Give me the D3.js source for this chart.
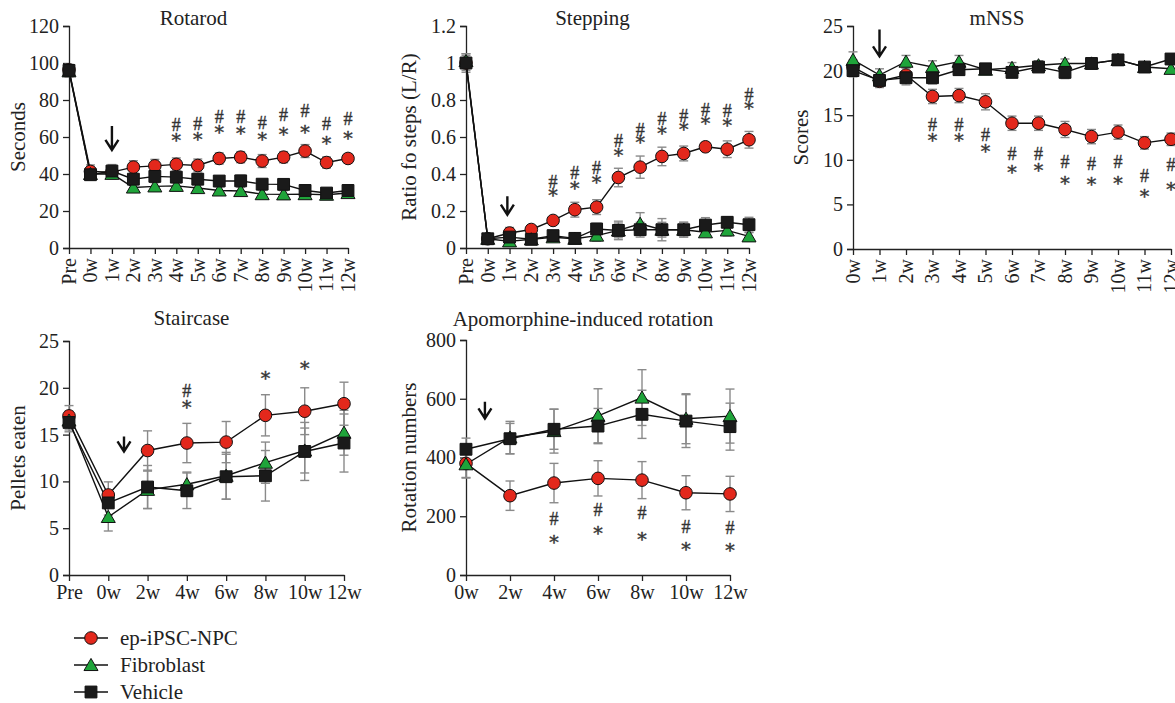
<!DOCTYPE html>
<html>
<head>
<meta charset="utf-8">
<script src="https://cdn.jsdelivr.net/npm/d3@7"></script>
<style>
  body { margin: 0; background: #fff; }
  svg text { font-family: "Liberation Serif", "Times New Roman", serif; fill: #222; }
  svg text.sig { fill: #333; stroke: #333; stroke-width: 0.35; }
  svg text.star { font-family: "DejaVu Serif", serif; }
  .axis path, .axis line { stroke: #222; stroke-width: 1.3; }
</style>
</head>
<body>
<div id="chart"></div>
<script>
const width = 1175;
const height = 703;

const seriesNames = ['ep-iPSC-NPC', 'Fibroblast', 'Vehicle'];

// Rotarod
const rotarodWeeks = ['Pre', '0w', '1w', '2w', '3w', '4w', '5w', '6w', '7w', '8w', '9w', '10w', '11w', '12w'];
const rotarodNpc = [96.3, 41.4, 41.0, 43.7, 44.4, 45.2, 44.6, 48.4, 49.1, 47.0, 49.1, 52.4, 46.2, 48.4];
const rotarodNpcErr = [3, 3.5, 3.5, 3.5, 3.5, 3.5, 3.5, 3, 3, 3.5, 3, 3.5, 3, 2.5];
const rotarodFib = [95.5, 40.0, 40.1, 32.7, 33.3, 33.6, 32.4, 31.1, 30.8, 29.1, 29.0, 29.1, 28.8, 29.7];
const rotarodFibErr = [3, 3, 2.5, 2, 2, 2, 2, 2, 2, 2, 2, 2, 2, 2];
const rotarodVeh = [96.0, 39.6, 41.6, 37.2, 38.7, 38.3, 37.2, 36.2, 36.3, 34.5, 34.4, 31.1, 29.7, 31.1];
const rotarodVehErr = [3, 3, 3.5, 3, 3, 3, 3, 2.5, 3, 2.5, 2.5, 3, 2.5, 3];
const rotarodHash = [null, null, null, null, null, 66.6, 67.2, 70.6, 70.6, 67.5, 72.0, 73.8, 67.1, 69.6];
const rotarodStar = [null, null, null, null, null, 59.4, 59.9, 63.9, 63.5, 60.0, 62.6, 63.9, 57.6, 60.3];

// Stepping
const steppingWeeks = rotarodWeeks;
const steppingNpc = [1.0, 0.05, 0.081, 0.10, 0.149, 0.207, 0.221, 0.381, 0.437, 0.495, 0.511, 0.547, 0.534, 0.585];
const steppingNpcErr = [0.05, 0.02, 0.03, 0.02, 0.02, 0.04, 0.04, 0.05, 0.06, 0.05, 0.04, 0.02, 0.045, 0.045];
const steppingFib = [1.01, 0.05, 0.036, 0.047, 0.058, 0.05, 0.067, 0.095, 0.131, 0.099, 0.099, 0.085, 0.095, 0.063];
const steppingFibErr = [0.04, 0.02, 0.02, 0.02, 0.02, 0.02, 0.03, 0.04, 0.06, 0.04, 0.04, 0.02, 0.03, 0.02];
const steppingVeh = [1.0, 0.05, 0.059, 0.047, 0.067, 0.052, 0.103, 0.095, 0.099, 0.099, 0.099, 0.124, 0.139, 0.126];
const steppingVehErr = [0.04, 0.02, 0.03, 0.02, 0.02, 0.02, 0.03, 0.05, 0.04, 0.06, 0.04, 0.04, 0.03, 0.04];
const steppingHash = [null, null, null, null, 0.356, 0.405, 0.432, 0.576, 0.639, 0.696, 0.711, 0.747, 0.738, 0.828];
const steppingStar = [null, null, null, null, 0.297, 0.333, 0.369, 0.513, 0.585, 0.635, 0.653, 0.689, 0.678, 0.765];

// mNSS
const mnssWeeks = ['0w', '1w', '2w', '3w', '4w', '5w', '6w', '7w', '8w', '9w', '10w', '11w', '12w'];
const mnssNpc = [20.4, 18.8, 19.5, 17.1, 17.2, 16.5, 14.1, 14.1, 13.4, 12.6, 13.1, 11.9, 12.3];
const mnssNpcErr = [0.8, 0.7, 0.8, 0.8, 0.8, 0.9, 0.8, 0.8, 0.9, 0.8, 0.8, 0.7, 0.7];
const mnssFib = [21.2, 19.5, 21.0, 20.4, 21.0, 20.1, 20.3, 20.6, 20.8, 20.8, 21.2, 20.4, 20.2];
const mnssFibErr = [0.9, 0.7, 0.7, 0.7, 0.7, 0.5, 0.6, 0.5, 0.5, 0.4, 0.4, 0.4, 0.5];
const mnssVeh = [20.0, 18.9, 19.2, 19.2, 20.1, 20.2, 19.8, 20.4, 19.8, 20.8, 21.2, 20.4, 21.3];
const mnssVehErr = [0.7, 0.6, 0.8, 0.7, 0.6, 0.4, 0.5, 0.5, 0.7, 0.4, 0.4, 0.4, 0.5];
const mnssHash = [null, null, null, 13.9, 13.9, 12.8, 10.6, 10.6, 9.7, 9.5, 9.7, 8.2, 9.4];
const mnssStar = [null, null, null, 12.4, 12.5, 11.2, 8.9, 9.1, 7.6, 7.5, 7.6, 6.2, 7.0];

// Staircase
const staircaseWeeks = ['Pre', '0w', '2w', '4w', '6w', '8w', '10w', '12w'];
const staircaseNpc = [17.0, 8.55, 13.3, 14.1, 14.2, 17.06, 17.5, 18.3];
const staircaseNpcErr = [1.1, 1.4, 2.1, 2.1, 2.2, 2.2, 2.5, 2.3];
const staircaseFib = [16.5, 6.2, 9.1, 9.7, 10.6, 12.0, 13.3, 15.2];
const staircaseFibErr = [1.0, 1.5, 2.0, 1.3, 2.5, 2.2, 2.4, 2.4];
const staircaseVeh = [16.3, 7.7, 9.4, 9.0, 10.5, 10.6, 13.2, 14.1];
const staircaseVehErr = [1.0, 1.3, 2.3, 1.9, 2.4, 2.7, 3.1, 3.1];
const staircaseHash = [null, null, null, 19.7, null, null, null, null];
const staircaseStar = [null, null, null, 18.2, null, 21.3, 22.3, null];

// Apomorphine-induced rotation
const apoWeeks = ['0w', '2w', '4w', '6w', '8w', '10w', '12w'];
const apoNpc = [380, 270, 313, 329, 323, 280, 276];
const apoNpcErr = [50, 50, 67, 60, 63, 58, 60];
const apoFib = [377, 468, 490, 542, 604, 532, 541];
const apoFibErr = [45, 55, 75, 92, 95, 85, 92];
const apoVeh = [428, 464, 496, 507, 547, 524, 505];
const apoVehErr = [38, 52, 68, 60, 82, 90, 80];
const apoHash = [null, null, 191, 221, 210, 165, 159];
const apoStar = [null, null, 119, 150, 128, 96, 91];

const colors = { npc: '#e3281c', fib: '#1fa43a', veh: '#1a1a1a' };

const panels = [
  {
    title: 'Rotarod', ylabel: 'Seconds', cats: rotarodWeeks, domain: [0, 120], ticks: d3.range(0, 121, 20),
    fmt: d => d, rotate: true, x0: 69, x1: 348, y0: 248, y1: 26, ylabelX: 18, titleY: 25,
    npc: rotarodNpc, npcErr: rotarodNpcErr, fib: rotarodFib, fibErr: rotarodFibErr,
    veh: rotarodVeh, vehErr: rotarodVehErr, hash: rotarodHash, star: rotarodStar,
    arrow: { at: 2, from: 66, to: 53 },
  },
  {
    title: 'Stepping', ylabel: 'Ratio fo steps (L/R)', cats: steppingWeeks, domain: [0, 1.2], ticks: d3.range(0, 7).map(i => i * 0.2),
    fmt: d => (d === 0 || d === 1 ? d3.format('d')(d) : d3.format('.1f')(d)), rotate: true, x0: 466, x1: 749, y0: 248, y1: 26, ylabelX: 409, titleY: 25,
    npc: steppingNpc, npcErr: steppingNpcErr, fib: steppingFib, fibErr: steppingFibErr,
    veh: steppingVeh, vehErr: steppingVehErr, hash: steppingHash, star: steppingStar,
    arrow: { at: 1.9, from: 0.28, to: 0.18 },
  },
  {
    title: 'mNSS', ylabel: 'Scores', cats: mnssWeeks, domain: [0, 25], ticks: d3.range(0, 26, 5),
    fmt: d => d, rotate: true, x0: 853, x1: 1171, y0: 249, y1: 26, ylabelX: 801, titleY: 25,
    npc: mnssNpc, npcErr: mnssNpcErr, fib: mnssFib, fibErr: mnssFibErr,
    veh: mnssVeh, vehErr: mnssVehErr, hash: mnssHash, star: mnssStar,
    arrow: { at: 1, from: 24.6, to: 21.6 },
  },
  {
    title: 'Staircase', ylabel: 'Pellets eaten', cats: staircaseWeeks, domain: [0, 25], ticks: d3.range(0, 26, 5),
    fmt: d => d, rotate: false, x0: 69, x1: 344, y0: 575, y1: 341, ylabelX: 18, titleY: 325,
    npc: staircaseNpc, npcErr: staircaseNpcErr, fib: staircaseFib, fibErr: staircaseFibErr,
    veh: staircaseVeh, vehErr: staircaseVehErr, hash: staircaseHash, star: staircaseStar,
    arrow: { at: 1.4, from: 14.8, to: 13.2 },
  },
  {
    title: 'Apomorphine-induced rotation', ylabel: 'Rotation numbers', cats: apoWeeks, domain: [0, 800], ticks: d3.range(0, 801, 200),
    fmt: d => d, rotate: false, x0: 466, x1: 730, y0: 575, y1: 340, ylabelX: 409, titleY: 326,
    npc: apoNpc, npcErr: apoNpcErr, fib: apoFib, fibErr: apoFibErr,
    veh: apoVeh, vehErr: apoVehErr, hash: apoHash, star: apoStar,
    arrow: { at: 0.43, from: 590, to: 533 },
  },
];

const svg = d3.select('#chart')
  .append('svg')
  .attr('width', width)
  .attr('height', height);

const symbols = {
  npc: d3.symbol().type(d3.symbolCircle).size(125),
  fib: d3.symbol().type(d3.symbolTriangle).size(85),
  veh: d3.symbol().type(d3.symbolSquare).size(140),
};

function drawPanel(p) {
  const g = svg.append('g');
  const x = d3.scalePoint().domain(p.cats).range([p.x0, p.x1]);
  const xi = d3.scaleLinear().domain([0, p.cats.length - 1]).range([p.x0, p.x1]);
  const y = d3.scaleLinear().domain(p.domain).range([p.y0, p.y1]);

  const yAxis = d3.axisLeft(y).tickValues(p.ticks).tickFormat(p.fmt).tickSize(6).tickPadding(4);
  g.append('g').attr('class', 'axis').attr('transform', `translate(${p.x0},0)`).call(yAxis)
    .call(a => a.selectAll('text').style('font-size', '20px'));

  const xAxis = d3.axisBottom(x).tickSize(6).tickSizeOuter(0).tickPadding(4);
  const xg = g.append('g').attr('class', 'axis').attr('transform', `translate(0,${p.y0})`).call(xAxis);
  xg.selectAll('text').style('font-size', '20px');
  if (p.rotate) {
    xg.selectAll('text')
      .attr('transform', 'rotate(-90)')
      .attr('text-anchor', 'end')
      .attr('x', -10)
      .attr('y', 0)
      .attr('dy', '0.32em');
  } else {
    xg.selectAll('text').attr('y', 10);
  }

  g.append('text')
    .attr('x', (p.x0 + p.x1) / 2 - 15)
    .attr('y', p.titleY)
    .attr('text-anchor', 'middle')
    .style('font-size', '21px')
    .text(p.title);

  g.append('text')
    .attr('transform', `translate(${p.ylabelX},${(p.y0 + p.y1) / 2}) rotate(-90)`)
    .attr('text-anchor', 'middle')
    .attr('dy', '0.35em')
    .style('font-size', '21px')
    .text(p.ylabel);

  const keys = ['npc', 'fib', 'veh'];
  const rows = k => p.cats.map((c, i) => ({ c, v: p[k][i], e: p[k + 'Err'][i] }));

  // error bars
  keys.forEach((k) => {
    const eb = g.append('g').attr('stroke', '#8a8a8a').attr('stroke-width', 1.4);
    rows(k).forEach((d) => {
      const cx = x(d.c);
      eb.append('line').attr('x1', cx).attr('x2', cx).attr('y1', y(d.v - d.e)).attr('y2', y(d.v + d.e));
      eb.append('line').attr('x1', cx - 4.5).attr('x2', cx + 4.5).attr('y1', y(d.v - d.e)).attr('y2', y(d.v - d.e));
      eb.append('line').attr('x1', cx - 4.5).attr('x2', cx + 4.5).attr('y1', y(d.v + d.e)).attr('y2', y(d.v + d.e));
    });
  });

  // lines
  const line = d3.line().x(d => x(d.c)).y(d => y(d.v));
  keys.forEach((k) => {
    g.append('path').datum(rows(k))
      .attr('fill', 'none').attr('stroke', '#111').attr('stroke-width', 1.4)
      .attr('d', line);
  });

  // markers
  keys.forEach((k) => {
    g.append('g').selectAll('path').data(rows(k)).join('path')
      .attr('d', symbols[k])
      .attr('transform', d => `translate(${x(d.c)},${y(d.v) + (k === 'fib' ? 1.5 : 0)})`)
      .attr('fill', colors[k])
      .attr('stroke', '#111')
      .attr('stroke-width', 1);
  });

  // significance marks
  p.cats.forEach((c, i) => {
    if (p.hash[i] != null) {
      g.append('text').attr('class', 'sig').attr('x', x(c)).attr('y', y(p.hash[i]) + 6)
        .attr('text-anchor', 'middle').style('font-size', '18px').text('#');
    }
    if (p.star[i] != null) {
      g.append('text').attr('class', 'sig star').attr('x', x(c)).attr('y', y(p.star[i]) + 9)
        .attr('text-anchor', 'middle').style('font-size', '19px').text('*');
    }
  });

  // treatment arrow
  const ax = xi(p.arrow.at);
  const ya = y(p.arrow.from);
  const yb = y(p.arrow.to);
  g.append('path')
    .attr('d', `M${ax},${ya}V${yb}M${ax - 6.5},${yb - 10}L${ax},${yb}L${ax + 6.5},${yb - 10}`)
    .attr('fill', 'none').attr('stroke', '#111').attr('stroke-width', 2.4);
}

panels.forEach(drawPanel);

// legend
const legendKeys = ['npc', 'fib', 'veh'];
const legend = svg.append('g').attr('transform', 'translate(74,638)');
legendKeys.forEach((k, i) => {
  const row = legend.append('g').attr('transform', `translate(0,${i * 27})`);
  row.append('line').attr('x1', 0).attr('x2', 34).attr('stroke', '#111').attr('stroke-width', 1.4);
  row.append('path').attr('d', symbols[k]).attr('transform', `translate(17,${k === 'fib' ? 1.5 : 0})`)
    .attr('fill', colors[k]).attr('stroke', '#111').attr('stroke-width', 1);
  row.append('text').attr('x', 46).attr('dy', '0.33em').style('font-size', '21px').text(seriesNames[i]);
});
</script>
</body>
</html>
